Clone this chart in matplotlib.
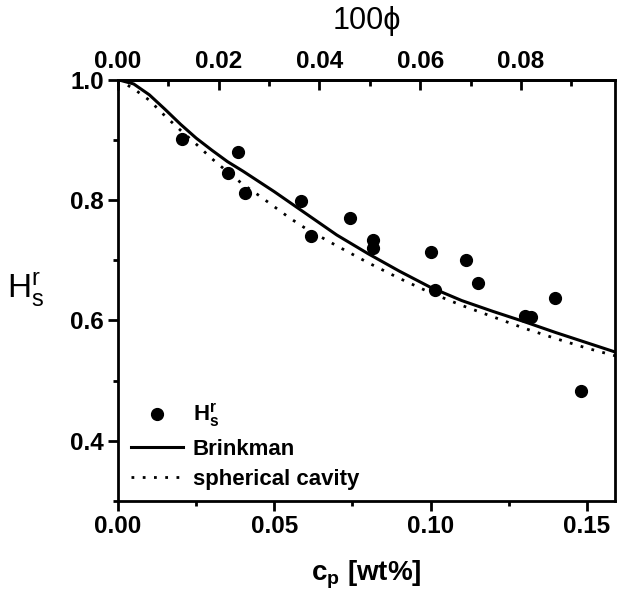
import numpy as np
import matplotlib
matplotlib.use("Agg")
from matplotlib import pyplot as plt
from matplotlib.ticker import MultipleLocator, FixedLocator, FormatStrFormatter

plt.rcParams['font.family'] = ['Liberation Sans', 'DejaVu Sans']
plt.rcParams['mathtext.fontset'] = 'custom'
plt.rcParams['mathtext.rm'] = 'Liberation Sans'
plt.rcParams['mathtext.it'] = 'Liberation Sans'
plt.rcParams['mathtext.bf'] = 'Liberation Sans:bold'

# measured points
cp_data = [0.0204, 0.0353, 0.0385, 0.0405, 0.0585, 0.0616, 0.0743, 0.0815, 0.0815,
           0.1002, 0.1015, 0.1113, 0.1153, 0.1302, 0.1323, 0.1398, 0.1481]
hs_data = [0.902, 0.845, 0.880, 0.811, 0.798, 0.740, 0.770, 0.733, 0.720,
           0.713, 0.650, 0.700, 0.662, 0.607, 0.606, 0.638, 0.482]

# model curves
cp_brink = [0.000, 0.005, 0.010, 0.015, 0.020, 0.025, 0.030, 0.035, 0.040, 0.045, 0.050,
            0.055, 0.060, 0.065, 0.070, 0.080, 0.090, 0.100, 0.110, 0.120, 0.130,
            0.140, 0.150, 0.160]
hs_brink = [1.000, 0.993, 0.975, 0.951, 0.926, 0.903, 0.883, 0.864, 0.848, 0.831, 0.814,
            0.796, 0.778, 0.760, 0.742, 0.711, 0.682, 0.655, 0.633, 0.615, 0.598,
            0.580, 0.563, 0.546]

cp_cav = [0.000, 0.005, 0.010, 0.015, 0.020, 0.025, 0.030, 0.035, 0.040, 0.045, 0.050,
          0.055, 0.060, 0.070, 0.080, 0.090, 0.100, 0.110, 0.120, 0.130, 0.140,
          0.150, 0.160]
hs_cav = [1.000, 0.985, 0.966, 0.940, 0.916, 0.893, 0.869, 0.847, 0.826, 0.808, 0.789,
          0.770, 0.753, 0.724, 0.696, 0.670, 0.646, 0.625, 0.606, 0.587, 0.570,
          0.554, 0.540]

phi_ticks = [0.00, 0.02, 0.04, 0.06, 0.08]
phi_factor = 0.6206  # 100*phi per wt%

fig = plt.figure(figsize=(6.18, 5.95), dpi=100)
ax = fig.add_axes([0.191, 0.158, 0.804, 0.708])

ax.plot(cp_data, hs_data, 'o', color='black', markersize=8.5, label=r'$\mathbf{H_s^r}$')
ax.plot(cp_brink, hs_brink, '-', color='black', linewidth=2.2, label='Brinkman')
ax.plot(cp_cav, hs_cav, color='black', linewidth=2.0, linestyle=(0, (1.0, 3.05)),
        label='spherical cavity')

ax.set_xlim(0, 0.159)
ax.set_ylim(0.3, 1.0)
ax.xaxis.set_major_locator(MultipleLocator(0.05))
ax.xaxis.set_minor_locator(MultipleLocator(0.025))
ax.yaxis.set_major_locator(MultipleLocator(0.2))
ax.yaxis.set_minor_locator(MultipleLocator(0.1))
ax.xaxis.set_major_formatter(FormatStrFormatter('%.2f'))
ax.yaxis.set_major_formatter(FormatStrFormatter('%.1f'))

for s in ax.spines.values():
    s.set_linewidth(2)
ax.tick_params(axis='both', which='major', direction='out', length=7, width=2,
               labelsize=17.5, pad=3)
ax.tick_params(axis='both', which='minor', direction='out', length=3.5, width=2)
for lab in ax.get_xticklabels() + ax.get_yticklabels():
    lab.set_fontweight('bold')

ax.set_xlabel(r'$\mathbf{c_p}$ [wt%]', fontsize=20, fontweight='bold', labelpad=15)
ax.set_ylabel(r'$\mathrm{H_s^r}$', fontsize=24, rotation=0, labelpad=32, va='center')

top = ax.secondary_xaxis('top', functions=(lambda c: c * phi_factor,
                                           lambda p: p / phi_factor))
top.xaxis.set_major_locator(FixedLocator(phi_ticks))
top.xaxis.set_minor_locator(FixedLocator([0.01, 0.03, 0.05, 0.07, 0.09]))
top.xaxis.set_major_formatter(FormatStrFormatter('%.2f'))
top.spines['top'].set_linewidth(2)
top.tick_params(which='major', direction='in', length=7, width=2, labelsize=17.5, pad=5)
top.tick_params(which='minor', direction='in', length=4, width=2)
for lab in top.get_xticklabels():
    lab.set_fontweight('bold')
top.set_xlabel('100\u03d5', fontsize=22, labelpad=15)

ax.legend(loc='lower left', bbox_to_anchor=(0.026, 0.026), frameon=False,
          prop={'weight': 'bold', 'size': 16}, handlelength=2.34,
          handletextpad=0.45, labelspacing=0.42, borderaxespad=0, borderpad=0)

fig.savefig('out.png', dpi=100)
